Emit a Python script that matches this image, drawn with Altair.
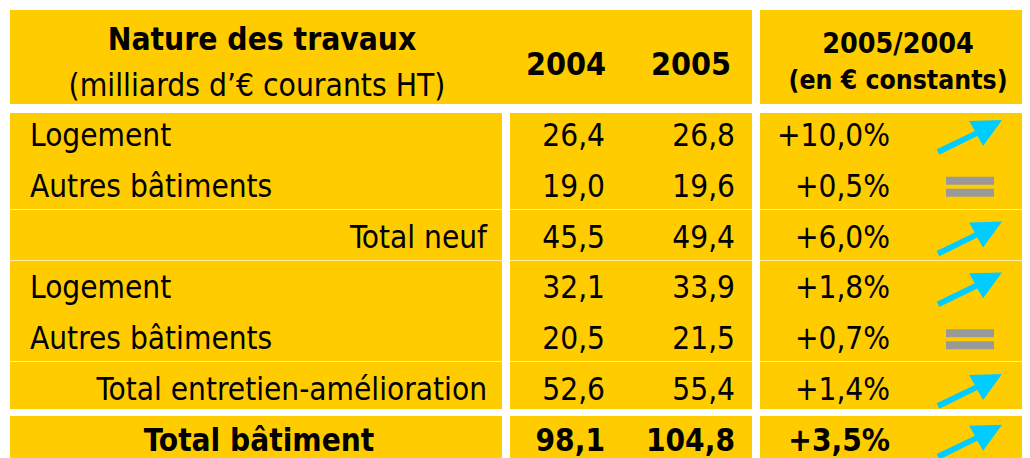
import altair as alt
import pandas as pd

# ---------------- data ----------------
labels = ["Logement", "Autres bâtiments", "Total neuf", "Logement",
          "Autres bâtiments", "Total entretien-amélioration", "Total bâtiment"]
v2004 = [26.4, 19.0, 45.5, 32.1, 20.5, 52.6, 98.1]
v2005 = [26.8, 19.6, 49.4, 33.9, 21.5, 55.4, 104.8]
pct = [10.0, 0.5, 6.0, 1.8, 0.7, 1.4, 3.5]
trend = ["hausse", "stable", "hausse", "hausse", "stable", "hausse", "hausse"]
label_kind = ["left", "left", "right", "left", "left", "right", "total"]

head_main = "Nature des travaux"
head_unit = "(milliards d’€ courants HT)"
head_years = ["2004", "2005"]
head_ratio = "2005/2004"
head_ratio_unit = "(en € constants)"

# ---------------- layout / style ----------------
W, H = 1014, 452
FONT = "DejaVu Sans Condensed"
YEL = "#FFCC00"
LINE = "#FFF0B0"
CYAN = "#00CCFF"
GREY = "#999999"
ROW0, ROWH = 138, 50.8
BODY_FS = 31.3

ARROW = ("M -1.042 0.416 L 0.15 -0.16 L -0.03 -0.47 L 1 -0.5 L 0.41 0.31 "
         "L 0.23 0.0 L -0.958 0.584 Z")
EQUAL = ("M -1 -0.417 L 1 -0.417 L 1 -0.083 L -1 -0.083 Z "
         "M -1 0.083 L 1 0.083 L 1 0.417 L -1 0.417 Z")

def fr(v):
    return f"{v:.1f}".replace(".", ",")

rows = pd.DataFrame({
    "row": list(range(len(labels))),
    "label": labels,
    "kind": label_kind,
    "t2004": [fr(v) for v in v2004],
    "t2005": [fr(v) for v in v2005],
    "tpct": ["+" + fr(p) + "%" for p in pct],
    "trend": trend,
})

cells = pd.DataFrame({
    "x0": [2, 752, 2, 502, 752, 2, 502, 752],
    "x1": [744, W, 494, 744, W, 494, 744, W],
    "y0": [2, 2, 105, 105, 105, 408, 408, 408],
    "y1": [96, 96, 401, 401, 401, 470, 470, 470],
})
seps = pd.DataFrame({
    "x0": [2, 502, 752] * 3,
    "x1": [494, 744, W] * 3,
    "y0": [201] * 3 + [252] * 3 + [353] * 3,
})
seps["y1"] = seps["y0"] + 1

xs = alt.Scale(domain=[0, W], range=[0, W], nice=False, zero=False)
ys = alt.Scale(domain=[0, H], range=[0, H], nice=False, zero=False)

def X(f):
    return alt.X(f, type="quantitative", scale=xs, axis=None)

def Y(f):
    return alt.Y(f, type="quantitative", scale=ys, axis=None)

bg = alt.Chart(cells).mark_rect(color=YEL).encode(
    x=X("x0"), x2="x1", y=Y("y0"), y2="y1")
sep = alt.Chart(seps).mark_rect(color=LINE).encode(
    x=X("x0"), x2="x1", y=Y("y0"), y2="y1")

def htext(txt, x, y, size, bold):
    df = pd.DataFrame({"t": [txt], "x": [x], "y": [y]})
    return alt.Chart(df).mark_text(
        font=FONT, fontSize=size, fontWeight="bold" if bold else "normal",
        align="center", baseline="alphabetic", color="black"
    ).encode(x=X("x"), y=Y("y"), text="t:N")

headers = [
    htext(head_main, 254, 42, 31.5, True),
    htext(head_unit, 249, 88, 31.5, False),
    htext(head_years[0], 558, 67, 32, True),
    htext(head_years[1], 683, 67, 32, True),
    htext(head_ratio, 890, 45, 28.4, True),
    htext(head_ratio_unit, 890, 81, 26.4, True),
]

base = alt.Chart(rows).transform_calculate(
    yb=f"{ROW0} + {ROWH} * datum.row",
    ym=f"{ROW0 - 10} + {ROWH} * datum.row",
)

def btext(field, xpx, align, bold, flt):
    return base.transform_filter(flt).mark_text(
        font=FONT, fontSize=BODY_FS, fontWeight="bold" if bold else "normal",
        align=align, baseline="alphabetic", color="black"
    ).encode(x=alt.value(xpx), y=Y("yb"), text=f"{field}:N")

body = [
    btext("label", 22, "left", False, "datum.kind == 'left'"),
    btext("label", 479, "right", False, "datum.kind == 'right'"),
    btext("label", 251, "center", True, "datum.kind == 'total'"),
    btext("t2004", 597, "right", False, "datum.kind != 'total'"),
    btext("t2005", 727, "right", False, "datum.kind != 'total'"),
    btext("tpct", 882, "right", False, "datum.kind != 'total'"),
    btext("t2004", 597, "right", True, "datum.kind == 'total'"),
    btext("t2005", 727, "right", True, "datum.kind == 'total'"),
    btext("tpct", 882, "right", True, "datum.kind == 'total'"),
]

arrows = base.transform_filter("datum.trend == 'hausse'").mark_point(
    shape=ARROW, size=4096, filled=True, color=CYAN, opacity=1, strokeWidth=0
).encode(x=alt.value(962), y=Y("ym"))
equals = base.transform_filter("datum.trend == 'stable'").mark_point(
    shape=EQUAL, size=2304, filled=True, color=GREY, opacity=1, strokeWidth=0
).encode(x=alt.value(962), y=Y("ym"))

chart = alt.layer(bg, sep, *headers, *body, arrows, equals).properties(
    width=W, height=H, padding=0, autosize=alt.AutoSizeParams(type="none"),
    background="white"
).configure_view(stroke=None)

chart.save("out.html", embed_options={"renderer": "svg", "actions": False})
